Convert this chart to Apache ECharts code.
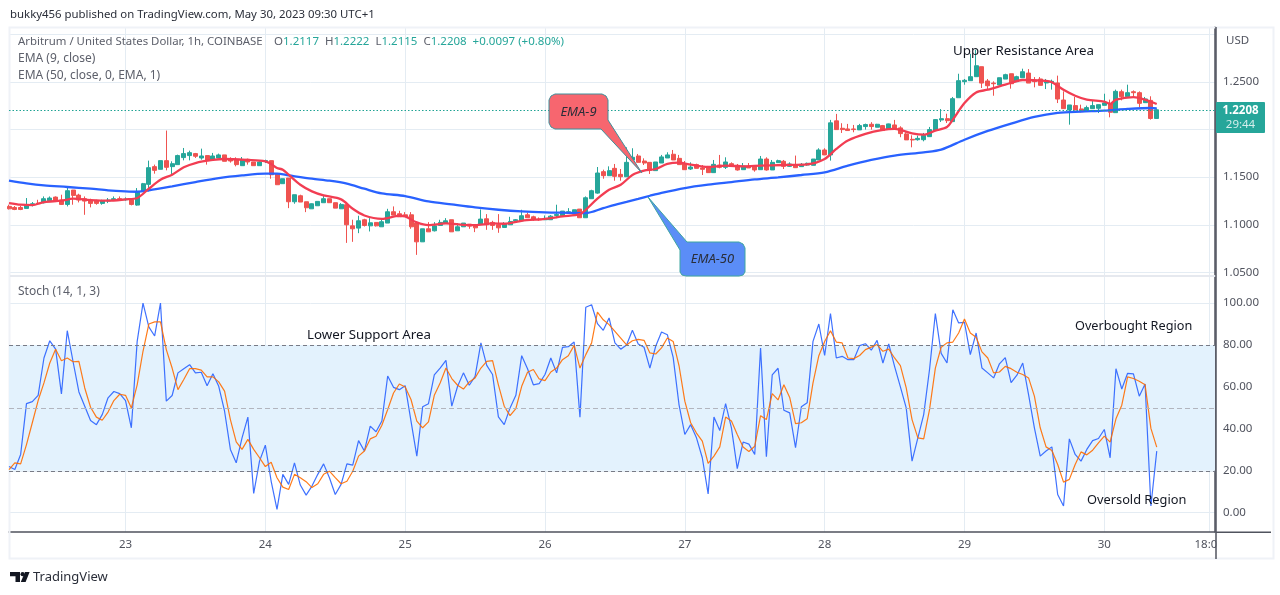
<!DOCTYPE html>
<html>
<head>
<meta charset="utf-8">
<style>html,body{margin:0;padding:0;background:#fff}#chart{width:1280px;height:595px}</style>
<script src="https://cdn.jsdelivr.net/npm/echarts@6/dist/echarts.min.js"></script>
</head>
<body>
<div id="chart"></div>
<script>
// hourly bars, first one is May 22 04:00
var barCount = 208;
var dayTicks = { 20: '23', 44: '24', 68: '25', 92: '26', 116: '27', 140: '28', 164: '29', 188: '30', 206: '18:00' };
var priceTicks = [1.05, 1.10, 1.15, 1.20, 1.25, 1.30];
var priceLabels = [1.05, 1.10, 1.15, 1.20, 1.25];
var stochTicks = [0, 20, 40, 60, 80, 100];
var lastClose = 1.2208;

// open, close, low, high
var candles = [
[1.1193,1.1168,1.1161,1.1211],[1.1182,1.1161,1.1154,1.1197],[1.1182,1.1161,1.1154,1.1200],[1.1172,1.1211,1.1172,1.1281],
[1.1211,1.1221,1.1193,1.1239],[1.1228,1.1221,1.1211,1.1263],[1.1232,1.1274,1.1225,1.1298],[1.1253,1.1281,1.1239,1.1298],
[1.1291,1.1260,1.1239,1.1298],[1.1260,1.1214,1.1211,1.1316],[1.1214,1.1358,1.1193,1.1404],[1.1365,1.1309,1.1211,1.1365],
[1.1312,1.1260,1.1235,1.1326],[1.1274,1.1249,1.1105,1.1298],[1.1260,1.1225,1.1183,1.1274],[1.1256,1.1225,1.1211,1.1263],
[1.1225,1.1253,1.1211,1.1263],[1.1249,1.1260,1.1228,1.1281],[1.1263,1.1274,1.1256,1.1298],[1.1274,1.1267,1.1256,1.1298],
[1.1263,1.1270,1.1253,1.1288],[1.1263,1.1214,1.1204,1.1274],[1.1207,1.1351,1.1200,1.1386],[1.1351,1.1432,1.1351,1.1440],
[1.1425,1.1600,1.1351,1.1674],[1.1611,1.1572,1.1537,1.1632],[1.1583,1.1674,1.1583,1.1674],[1.1674,1.1604,1.1572,1.1990],
[1.1611,1.1642,1.1534,1.1667],[1.1632,1.1727,1.1632,1.1737],[1.1706,1.1748,1.1677,1.1807],[1.1727,1.1758,1.1677,1.1779],
[1.1748,1.1720,1.1702,1.1755],[1.1702,1.1723,1.1684,1.1800],[1.1727,1.1674,1.1632,1.1727],[1.1688,1.1723,1.1688,1.1755],
[1.1702,1.1734,1.1702,1.1748],[1.1734,1.1667,1.1667,1.1734],[1.1691,1.1670,1.1653,1.1709],[1.1684,1.1632,1.1614,1.1709],
[1.1621,1.1684,1.1621,1.1712],[1.1688,1.1660,1.1632,1.1695],[1.1660,1.1621,1.1621,1.1660],[1.1621,1.1660,1.1621,1.1667],
[1.1667,1.1674,1.1649,1.1684],[1.1674,1.1526,1.1484,1.1674],[1.1537,1.1421,1.1421,1.1537],[1.1432,1.1484,1.1432,1.1484],
[1.1491,1.1242,1.1175,1.1491],[1.1242,1.1316,1.1221,1.1316],[1.1305,1.1239,1.1239,1.1316],[1.1242,1.1179,1.1133,1.1242],
[1.1168,1.1221,1.1168,1.1225],[1.1200,1.1246,1.1200,1.1246],[1.1232,1.1274,1.1232,1.1305],[1.1274,1.1232,1.1232,1.1274],
[1.1232,1.1175,1.1175,1.1232],[1.1168,1.1214,1.1168,1.1228],[1.1211,1.1000,1.0810,1.1211],[1.0989,1.0958,1.0821,1.1053],
[1.0965,1.1042,1.0912,1.1095],[1.1053,1.0993,1.0982,1.1063],[1.0989,1.1021,1.0930,1.1070],[1.1025,1.0989,1.0982,1.1025],
[1.0979,1.1032,1.0979,1.1070],[1.1018,1.1137,1.1018,1.1168],[1.1137,1.1102,1.1102,1.1193],[1.1116,1.1084,1.1084,1.1147],
[1.1105,1.1088,1.1088,1.1133],[1.1105,1.0979,1.0958,1.1133],[1.1018,1.0821,1.0684,1.1018],[1.0821,1.0958,1.0821,1.0958],
[1.0958,1.0926,1.0926,1.1028],[1.0937,1.0989,1.0930,1.1028],[1.0993,1.1025,1.0993,1.1053],[1.1014,1.1042,1.1014,1.1070],
[1.1053,1.0926,1.0926,1.1053],[1.0937,1.0979,1.0937,1.1018],[1.0979,1.1018,1.0979,1.1018],[1.1007,1.0986,1.0958,1.1007],
[1.1000,1.0968,1.0923,1.1007],[1.1007,1.1060,1.1007,1.1161],[1.1063,1.1000,1.0947,1.1112],[1.1025,1.0993,1.0947,1.1042],
[1.1000,1.0968,1.0916,1.1112],[1.0972,1.1011,1.0972,1.1028],[1.1000,1.1035,1.1000,1.1084],[1.1042,1.1053,1.1035,1.1060],
[1.1042,1.1095,1.1042,1.1158],[1.1105,1.1074,1.1074,1.1130],[1.1084,1.1053,1.1042,1.1095],[1.1060,1.1053,1.1042,1.1077],
[1.1053,1.1067,1.1053,1.1098],[1.1053,1.1091,1.1053,1.1102],[1.1098,1.1109,1.1070,1.1211],[1.1095,1.1144,1.1095,1.1144],
[1.1130,1.1137,1.1126,1.1175],[1.1112,1.1158,1.1112,1.1158],[1.1165,1.1074,1.1074,1.1165],[1.1074,1.1284,1.1074,1.1298],
[1.1274,1.1358,1.1274,1.1368],[1.1333,1.1544,1.1326,1.1607],[1.1558,1.1516,1.1484,1.1579],[1.1516,1.1569,1.1516,1.1614],
[1.1593,1.1509,1.1463,1.1639],[1.1530,1.1505,1.1463,1.1586],[1.1505,1.1656,1.1505,1.1814],[1.1681,1.1709,1.1681,1.1804],
[1.1723,1.1656,1.1656,1.1744],[1.1670,1.1649,1.1628,1.1698],[1.1656,1.1572,1.1534,1.1656],[1.1569,1.1660,1.1569,1.1660],
[1.1649,1.1713,1.1649,1.1734],[1.1702,1.1734,1.1702,1.1762],[1.1741,1.1681,1.1681,1.1786],[1.1698,1.1632,1.1632,1.1734],
[1.1639,1.1579,1.1579,1.1670],[1.1586,1.1607,1.1576,1.1656],[1.1632,1.1593,1.1593,1.1642],[1.1597,1.1583,1.1523,1.1628],
[1.1611,1.1548,1.1548,1.1618],[1.1548,1.1635,1.1548,1.1681],[1.1628,1.1604,1.1593,1.1734],[1.1604,1.1660,1.1586,1.1709],
[1.1642,1.1614,1.1607,1.1656],[1.1625,1.1576,1.1569,1.1639],[1.1579,1.1618,1.1579,1.1649],[1.1614,1.1597,1.1597,1.1649],
[1.1614,1.1576,1.1558,1.1628],[1.1579,1.1691,1.1579,1.1723],[1.1691,1.1576,1.1569,1.1709],[1.1576,1.1656,1.1576,1.1681],
[1.1653,1.1674,1.1653,1.1684],[1.1667,1.1614,1.1586,1.1681],[1.1614,1.1639,1.1607,1.1656],[1.1632,1.1600,1.1600,1.1727],
[1.1611,1.1635,1.1611,1.1649],[1.1628,1.1646,1.1621,1.1653],[1.1625,1.1691,1.1625,1.1691],[1.1681,1.1786,1.1681,1.1804],
[1.1786,1.1734,1.1734,1.1804],[1.1734,1.2071,1.1674,1.2102],[1.2092,1.2000,1.2000,1.2165],[1.2014,1.2000,1.1965,1.2067],
[1.2007,1.1990,1.1990,1.2060],[1.2007,1.2000,1.1972,1.2049],[1.1997,1.2042,1.1997,1.2060],[1.2032,1.2053,1.2000,1.2063],
[1.2056,1.2032,1.2000,1.2078],[1.2025,1.2056,1.2025,1.2060],[1.2042,1.1990,1.1990,1.2049],[1.2007,1.2060,1.2007,1.2063],
[1.2049,1.2007,1.2007,1.2102],[1.2018,1.1958,1.1920,1.2035],[1.1955,1.1892,1.1892,1.1972],[1.1898,1.1891,1.1814,1.1940],
[1.1894,1.1908,1.1884,1.1937],[1.1894,1.1940,1.1877,1.1965],[1.1926,1.2000,1.1926,1.2028],[1.1993,1.2105,1.1993,1.2111],
[1.2101,1.2115,1.2080,1.2216],[1.2115,1.2094,1.2069,1.2167],[1.2084,1.2325,1.2084,1.2343],[1.2335,1.2514,1.2335,1.2587],
[1.2504,1.2518,1.2472,1.2532],[1.2514,1.2556,1.2514,1.2797],[1.2556,1.2671,1.2556,1.2839],[1.2661,1.2489,1.2437,1.2661],
[1.2511,1.2461,1.2419,1.2532],[1.2489,1.2482,1.2356,1.2507],[1.2469,1.2545,1.2469,1.2545],[1.2531,1.2577,1.2531,1.2587],
[1.2587,1.2482,1.2430,1.2587],[1.2504,1.2556,1.2504,1.2566],[1.2545,1.2608,1.2545,1.2640],[1.2594,1.2489,1.2489,1.2636],
[1.2518,1.2504,1.2444,1.2552],[1.2532,1.2465,1.2465,1.2552],[1.2490,1.2500,1.2426,1.2532],[1.2497,1.2507,1.2420,1.2525],
[1.2490,1.2321,1.2279,1.2567],[1.2311,1.2220,1.2220,1.2402],[1.2206,1.2259,1.2052,1.2259],[1.2252,1.2206,1.2206,1.2343],
[1.2217,1.2189,1.2182,1.2262],[1.2192,1.2231,1.2192,1.2252],[1.2220,1.2252,1.2220,1.2307],[1.2224,1.2262,1.2174,1.2262],
[1.2255,1.2280,1.2255,1.2377],[1.2273,1.2182,1.2129,1.2315],[1.2178,1.2402,1.2178,1.2420],[1.2398,1.2346,1.2307,1.2420],
[1.2346,1.2388,1.2346,1.2472],[1.2398,1.2388,1.2342,1.2412],[1.2388,1.2276,1.2234,1.2402],[1.2283,1.2322,1.2283,1.2343],
[1.2307,1.2117,1.2105,1.2350],[1.2117,1.2208,1.2115,1.2222]
];

// bar index, value read at that bar
var ema9 = [
[0,1.1228],[2,1.1211],[4,1.1207],[6,1.1239],[9,1.1253],[11,1.1274],[14,1.1260],[17,1.1253],[20,1.1267],[22,1.1281],[24,1.1379],[26,1.1474],
[28,1.1526],[30,1.1604],[32,1.1649],[35,1.1681],[37,1.1691],[41,1.1681],[44,1.1667],[45,1.1639],[46,1.1597],[47,1.1579],[48,1.1526],[50,1.1421],
[52,1.1351],[54,1.1309],[57,1.1267],[59,1.1168],[61,1.1098],[64,1.1063],[67,1.1095],[68,1.1088],[70,1.1025],[72,1.0997],[75,1.1014],[78,1.1000],
[80,1.0997],[83,1.1014],[85,1.1011],[88,1.1042],[92,1.1063],[95,1.1088],[98,1.1112],[99,1.1158],[101,1.1274],[103,1.1368],[105,1.1421],[107,1.1523],
[109,1.1569],[111,1.1586],[113,1.1639],[115,1.1653],[117,1.1632],[120,1.1607],[123,1.1621],[126,1.1614],[129,1.1621],[133,1.1628],[137,1.1635],[140,1.1691],
[142,1.1797],[144,1.1885],[147,1.1955],[150,1.1997],[152,1.2007],[153,1.1996],[155,1.1961],[157,1.1947],[159,1.1989],[161,1.2028],[162,1.2105],[164,1.2279],
[166,1.2391],[168,1.2419],[171,1.2472],[174,1.2521],[178,1.2511],[179,1.2497],[181,1.2419],[183,1.2356],[185,1.2315],[188,1.2294],[189,1.2269],[190,1.2315],
[193,1.2342],[195,1.2315],[197,1.2269]
];
var ema50 = [
[0,1.1463],[3,1.1435],[6,1.1414],[10,1.1397],[14,1.1379],[17,1.1362],[20,1.1351],[22,1.1347],[24,1.1362],[28,1.1404],[32,1.1449],[36,1.1491],
[40,1.1519],[44,1.1537],[46,1.1537],[48,1.1519],[52,1.1484],[55,1.1463],[58,1.1432],[61,1.1379],[64,1.1330],[68,1.1302],[72,1.1246],[76,1.1214],
[80,1.1183],[84,1.1158],[88,1.1140],[92,1.1130],[96,1.1126],[99,1.1123],[102,1.1175],[104,1.1210],[106,1.1240],[108,1.1272],[110,1.1305],[112,1.1336],
[116,1.1386],[120,1.1421],[124,1.1449],[128,1.1477],[132,1.1498],[136,1.1523],[140,1.1551],[144,1.1621],[148,1.1681],[152,1.1727],[157,1.1761],[160,1.1789],
[164,1.1894],[168,1.1986],[172,1.2063],[176,1.2133],[180,1.2175],[184,1.2189],[188,1.2199],[192,1.2217],[196,1.2227],[197,1.2224]
];

var stochK = [
22,20.6,27.8,52,53,56,73.8,82,78,56.7,86.8,72,57.6,50.8,44,42,46.8,54.8,57.8,56.8,
53.5,40.5,81.7,100,88.6,84.3,100,53.2,55.9,66.7,68.7,70.6,66.7,67,60.6,66.3,60.3,48.4,30.2,23.8,
35.7,45.6,9.2,24.6,32.2,15,1.6,18.3,13.5,23.8,13.2,8.4,12.7,18.3,23.3,16.7,8.7,13.5,23.3,22.7,
34.4,29.4,41.3,38.6,43.7,65.2,59.8,58.7,60.6,43.7,27,50.5,52,65.7,69,72.7,50.8,60.3,66.7,60.8,
65,81,70.3,65.9,45.7,42,50,56,74.9,68.7,61,61.6,65.9,73.8,66.7,78.9,79.2,81.4,45.6,98,
99.2,90.2,87,92.9,81,78,80,87,80.5,78.9,69,79.4,86.2,84.9,74.1,51.6,37.3,42,35.7,26.2,
9,45.6,39.2,52,40.5,21,33.7,32.7,27.8,78.6,26.7,65.7,68.9,48.9,47.6,31,50.5,52.4,81.7,90,
75,95,73.8,74.6,73,73,79.7,80.6,77.5,82.2,71.4,80.5,69.8,60,50,24.6,35.7,46.8,68.3,95,
76,71.4,96.8,90.5,90.8,75.4,85.7,69,66.7,64.3,71,74,62,65.6,71.4,56.3,40.5,27,29.4,31.4,
8.7,3.2,35.2,27.8,24.6,30.2,34.4,35.4,39.7,26.2,68.7,59,66.5,66.2,55.6,61.4,3.2,29.4
];
var stochD = [
20.6,23.8,23.3,32.5,42.9,53.5,61.9,71.4,78,72.5,73.8,72,72.2,59.5,50.3,45.6,44.1,48,53.5,56.5,
56,50,61,77,90,91,91,77.8,69,58.7,63.5,68.7,68.7,68,64.8,64.8,62.4,58,44.4,33.8,
30.2,35,30.2,26.2,22,24.1,16.7,12.2,11.1,18.3,16.7,14.8,12,13.8,18.3,19.8,16.7,13.8,15,19.8,
27,29.4,35.2,36.5,41.7,49.2,57.1,61.4,60,54,43.7,40.5,43.3,56,61.9,69,64,60.8,59,62.4,
64.3,69,72.2,72.5,61,50.8,46.3,49.7,60.3,67,68.3,63.8,63,67.1,69,73,74.9,79.8,69,75.4,
81,95.7,92,89.7,86.5,83.3,80,82,82.7,82.2,76.2,75.7,78.6,83.3,81.7,70.2,53.2,42.9,38,34.1,
23.5,27,31.4,45.6,43.7,37.3,31.3,29.2,31.7,46.3,44.4,56.8,53.8,61,55,42.5,42.9,44.8,61.9,74.9,
81.7,86.8,81.4,81,73.8,73.5,75,77.8,79,80.2,77,78,73.8,70.2,59.5,44.4,35.7,35.2,49.2,69,
78.9,81,81.4,85.7,92.4,85.7,83.7,76.7,73.8,66.7,67.1,69.8,68.7,67,65.9,64.3,55.6,40.5,31.4,29.7,
23,14.6,15.9,23,29,27.6,29.8,33.3,36.5,33.7,44.8,51.3,64.8,64,62.7,61,40.2,31.3
];

var categories = [];
for (var i = 0; i < barCount; i++) categories.push(String(i));

var gridColor = '#e4ecf3';
var axisColor = '#50535e';
var textFont = '"Noto Sans", sans-serif';
var isDayTick = function (i) { return dayTicks[i] !== undefined; };

function xAxisFor(gridIndex, showLabels) {
	return {
		type: 'category',
		gridIndex: gridIndex,
		data: categories,
		boundaryGap: false,
		axisLine: { show: showLabels, onZero: false, lineStyle: { color: axisColor, width: 1.5 } },
		axisTick: { show: false },
		axisLabel: {
			show: showLabels,
			interval: isDayTick,
			formatter: function (v) { return dayTicks[v] || ''; },
			color: axisColor,
			fontFamily: textFont,
			fontSize: 11.5,
			margin: 7
		},
		splitLine: { show: true, interval: isDayTick, lineStyle: { color: gridColor, width: 1 } }
	};
}

function yAxisFor(gridIndex, min, max, ticks, labels, digits) {
	return {
		type: 'value',
		gridIndex: gridIndex,
		position: 'right',
		min: min,
		max: max,
		axisLine: { show: true, lineStyle: { color: axisColor, width: 1.5 } },
		axisTick: { show: false, customValues: ticks },
		axisLabel: {
			customValues: labels,
			formatter: function (v) { return v.toFixed(digits); },
			color: axisColor,
			fontFamily: textFont,
			fontSize: 11.5,
			margin: 8,
			padding: [2, 0, 0, 0],
			showMinLabel: true,
			showMaxLabel: true
		},
		splitLine: { show: true, lineStyle: { color: gridColor, width: 1 } }
	};
}

function legendText(x, y, str, size) {
	return { type: 'text', z: 50, style: { x: x, y: y, text: str, fill: '#5d606b', font: (size || 12) + 'px ' + textFont, verticalAlign: 'middle' } };
}
function noteText(x, y, str, size) {
	return { type: 'text', z: 60, style: { x: x, y: y, text: str, fill: '#131722', font: (size || 13.3) + 'px ' + textFont, verticalAlign: 'middle' } };
}

var chart = echarts.init(document.getElementById('chart'));
chart.setOption({
	animation: false,
	backgroundColor: '#fff',
	grid: [
		{ left: 9, right: 65, top: 27, height: 249 },
		{ left: 9, right: 65, top: 276, height: 256 }
	],
	xAxis: [xAxisFor(0, false), xAxisFor(1, true)],
	yAxis: [
		yAxisFor(0, 1.0462, 1.3078, priceTicks, priceLabels, 4),
		yAxisFor(1, -9.2, 112.9, stochTicks, stochTicks, 2)
	],
	series: [
		{
			name: 'Price',
			type: 'candlestick',
			xAxisIndex: 0,
			yAxisIndex: 0,
			data: candles,
			barWidth: 4.5,
			itemStyle: { color: '#26a69a', color0: '#ef5350', borderColor: '#26a69a', borderColor0: '#ef5350', borderWidth: 1 },
			markLine: {
				silent: true,
				symbol: 'none',
				label: { show: false },
				lineStyle: { color: '#1fa394', type: [1.5, 2], width: 1.2 },
				data: [{ yAxis: lastClose }]
			}
		},
		{
			name: 'EMA 50',
			type: 'line',
			xAxisIndex: 0,
			yAxisIndex: 0,
			data: ema50,
			smooth: 0.3,
			showSymbol: false,
			lineStyle: { color: '#2962ff', width: 2.3 }
		},
		{
			name: 'EMA 9',
			type: 'line',
			xAxisIndex: 0,
			yAxisIndex: 0,
			data: ema9,
			smooth: 0.3,
			showSymbol: false,
			lineStyle: { color: '#f23d52', width: 2.3 }
		},
		{
			name: '%K',
			type: 'line',
			xAxisIndex: 1,
			yAxisIndex: 1,
			data: stochK,
			showSymbol: false,
			lineStyle: { color: '#2962ff', width: 1.2, opacity: 0.9 },
			z: 3,
			markArea: {
				silent: true,
				itemStyle: { color: '#e3f2fd' },
				data: [[{ yAxis: 20 }, { yAxis: 80 }]]
			},
			markLine: {
				silent: true,
				symbol: 'none',
				label: { show: false },
				lineStyle: { color: '#787b86', type: [4, 3], width: 1 },
				data: [
					{ yAxis: 20 },
					{ yAxis: 80 },
					{ yAxis: 50, lineStyle: { color: '#b2b5be', type: [5, 3], width: 1 } }
				]
			}
		},
		{
			name: '%D',
			type: 'line',
			xAxisIndex: 1,
			yAxisIndex: 1,
			data: stochD,
			showSymbol: false,
			lineStyle: { color: '#ff6d00', width: 1.2, opacity: 0.9 },
			z: 4
		}
	],
	graphic: [
		{ type: 'rect', z: 1, shape: { x: 9.5, y: 27.5, width: 1264, height: 531 }, style: { fill: 'none', stroke: '#eff2f7', lineWidth: 2 } },
		{ type: 'line', z: 1, shape: { x1: 10, y1: 276, x2: 1216, y2: 276 }, style: { stroke: '#e6e9ef', lineWidth: 2 } },
		// right end of the time scale is cut by the price pane
		{ type: 'rect', z: 40, shape: { x: 1216.5, y: 534, width: 30, height: 23 }, style: { fill: '#fff' } },
		{ type: 'line', z: 41, shape: { x1: 1216, y1: 27, x2: 1216, y2: 559 }, style: { stroke: axisColor, lineWidth: 1.5 } },
		{ type: 'line', z: 41, shape: { x1: 1216, y1: 532.3, x2: 1271, y2: 532.3 }, style: { stroke: axisColor, lineWidth: 1.5 } },

		{ type: 'text', z: 50, style: { x: 10, y: 15, text: 'bukky456 published on TradingView.com, May 30, 2023 09:30 UTC+1', fill: '#2a2e39', font: '11.4px ' + textFont, verticalAlign: 'middle' } },
		legendText(18, 42, 'Arbitrum / United States Dollar, 1h, COINBASE', 11.4),
		{
			type: 'text', z: 50,
			style: {
				x: 274, y: 42, verticalAlign: 'middle', font: '11.5px ' + textFont,
				text: '{k|O}{v|1.2117}  {k|H}{v|1.2222}  {k|L}{v|1.2115}  {k|C}{v|1.2208}  {v|+0.0097 (+0.80%)}',
				rich: { k: { fill: '#5d606b', font: '11.5px ' + textFont }, v: { fill: '#26a69a', font: '11.5px ' + textFont } }
			}
		},
		legendText(18, 59, 'EMA (9, close)'),
		legendText(18, 76, 'EMA (50, close, 0, EMA, 1)'),
		legendText(18, 292, 'Stoch (14, 1, 3)'),
		{ type: 'text', z: 50, style: { x: 1226, y: 41, text: 'USD', fill: axisColor, font: '11.5px ' + textFont, verticalAlign: 'middle' } },

		// last price tag
		{ type: 'rect', z: 45, shape: { x: 1216, y: 102, width: 49, height: 31, r: 1 }, style: { fill: '#26a69a' } },
		{ type: 'text', z: 46, style: { x: 1240.5, y: 110.5, text: '1.2208', fill: '#fff', font: 'bold 11.5px ' + textFont, align: 'center', verticalAlign: 'middle' } },
		{ type: 'text', z: 46, style: { x: 1240.5, y: 125, text: '29:44', fill: '#d4eeeb', font: '11.5px ' + textFont, align: 'center', verticalAlign: 'middle' } },

		// callouts
		{
			type: 'polygon', z: 55,
			shape: { points: [[555,94],[602,94],[606,96],[608,100],[608,120],[641.7,172.7],[601,129],[555,129],[551,127],[549,123],[549,100],[551,96]] },
			style: { fill: '#f7666f', stroke: '#3f8f9a', lineWidth: 1 }
		},
		{ type: 'text', z: 56, style: { x: 578.5, y: 112, text: 'EMA-9', fill: '#2a2e39', font: 'italic 13px ' + textFont, align: 'center', verticalAlign: 'middle' } },
		{
			type: 'polygon', z: 55,
			shape: { points: [[648,197],[687,242],[739,242],[743,244],[745,248],[745,272],[743,275],[739,276],[686,276],[682,275],[680,272],[680,250]] },
			style: { fill: '#5b8df7', stroke: '#3ea6a0', lineWidth: 1 }
		},
		{ type: 'text', z: 56, style: { x: 712.5, y: 259, text: 'EMA-50', fill: '#2a2e39', font: 'italic 13px ' + textFont, align: 'center', verticalAlign: 'middle' } },

		noteText(953, 51, 'Upper Resistance Area'),
		noteText(307, 335, 'Lower Support Area'),
		noteText(1075, 326, 'Overbought Region', 12.7),
		noteText(1087, 500, 'Oversold Region', 12.8),

		// TradingView logo
		{ type: 'polygon', z: 50, shape: { points: [[10,572],[20,572],[20,582],[15.5,582],[15.5,576.3],[10,576.3]] }, style: { fill: '#131722' } },
		{ type: 'circle', z: 50, shape: { cx: 22.6, cy: 574.2, r: 2.1 }, style: { fill: '#131722' } },
		{ type: 'polygon', z: 50, shape: { points: [[25,572],[29.6,572],[25.6,582],[20.8,582]] }, style: { fill: '#131722' } },
		{ type: 'text', z: 50, style: { x: 33, y: 577, text: 'TradingView', fill: '#2a2e39', font: '13px ' + textFont, verticalAlign: 'middle' } }
	]
});
</script>
</body>
</html>
